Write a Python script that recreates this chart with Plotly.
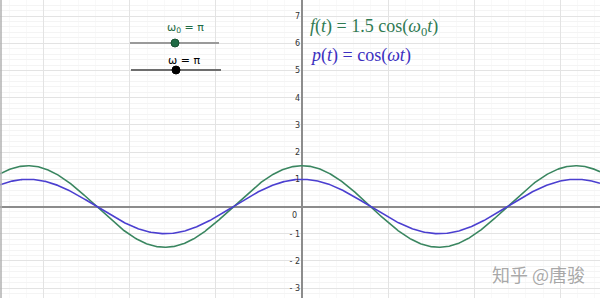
import numpy as np
import plotly.graph_objects as go

# ---- data ----
series_names = ["f(t) = 1.5 cos(ω0 t)", "p(t) = cos(ω t)"]
amplitudes = [1.5, 1.0]
omegas = [np.pi, np.pi]
series_colors = ["#3a8660", "#4b3fd0"]

x_range = [-2.2044, 2.1752]
y_range = [-3.364, 7.592]
y_tickvals = [-3, -2, -1, 1, 2, 3, 4, 5, 6, 7]
y_ticktext = ["- 3", "- 2", "- 1", "1", "2", "3", "4", "5", "6", "7"]

W, H = 600, 298
def px(x):
    return x / W
def py(y):
    return 1 - y / H

t = np.linspace(x_range[0], x_range[1], 800)

fig = go.Figure()
for name, a, w, c in zip(series_names, amplitudes, omegas, series_colors):
    fig.add_trace(go.Scatter(x=t, y=a * np.cos(w * t), mode="lines", name=name,
                             line=dict(color=c, width=1.6), hoverinfo="skip"))

fig.update_layout(
    width=W, height=H, margin=dict(l=0, r=0, t=0, b=0),
    paper_bgcolor="white", plot_bgcolor="white", showlegend=False,
    xaxis=dict(range=x_range, showticklabels=False, ticks="",
               dtick=np.pi / 5, tick0=0, gridcolor="#e3e3e3", gridwidth=1,
               minor=dict(dtick=np.pi / 25, tick0=0, showgrid=True, gridcolor="#f9f9f9", gridwidth=1),
               zeroline=True, zerolinecolor="#8c8c8c", zerolinewidth=1.5,
               showline=False, fixedrange=True),
    yaxis=dict(range=y_range, anchor="free", position=302 / W, side="left",
               tickmode="array", tickvals=y_tickvals, ticktext=y_ticktext,
               tickfont=dict(family="DejaVu Sans", size=8, color="#333333"),
               ticks="", ticklabelstandoff=2,
               showgrid=False,
               zeroline=True, zerolinecolor="#8c8c8c", zerolinewidth=1.5,
               showline=False, fixedrange=True),
)

# horizontal grid drawn through a second overlaying axis so labels stay at x=0
fig.update_layout(
    yaxis2=dict(range=y_range, overlaying="y", showticklabels=False, ticks="",
                dtick=1, tick0=0, gridcolor="#e3e3e3", gridwidth=1,
                minor=dict(dtick=0.2, tick0=0, showgrid=True, gridcolor="#f4f4f4", gridwidth=1),
                zeroline=False, showline=False, fixedrange=True, layer="below traces"),
)
fig.add_trace(go.Scatter(x=[x_range[0]], y=[0], yaxis="y2", mode="markers",
                         marker=dict(size=1, color="rgba(0,0,0,0)"), hoverinfo="skip"))

# "0" label below the axis
fig.add_annotation(x=0, y=0, text="0", showarrow=False, xanchor="right", yanchor="top",
                   xshift=-3, yshift=-2, font=dict(family="DejaVu Sans", size=8, color="#333333"))

# formula texts
fig.add_annotation(x=px(308), y=py(27), xref="paper", yref="paper", xanchor="left", yanchor="middle",
                   showarrow=False,
                   text="<i>f</i>(<i>t</i>) = 1.5 cos(<i>ω</i><sub>0</sub><i>t</i>)",
                   font=dict(family="Liberation Serif", size=18, color="#2f7a52"))
fig.add_annotation(x=px(308), y=py(55), xref="paper", yref="paper", xanchor="left", yanchor="middle",
                   showarrow=False,
                   text="<i>p</i>(<i>t</i>) = cos(<i>ωt</i>)",
                   font=dict(family="Liberation Serif", size=18, color="#3b2fc0"))

# sliders
fig.add_shape(type="line", xref="paper", yref="paper", x0=px(130), x1=px(219), y0=py(43), y1=py(43),
              line=dict(color="#9a9a9a", width=2))
fig.add_shape(type="circle", xref="paper", yref="paper", x0=px(171), x1=px(179), y0=py(39), y1=py(47),
              fillcolor="#1f6b45", line=dict(color="#15502f", width=1))
fig.add_annotation(x=px(185), y=py(28), xref="paper", yref="paper", showarrow=False,
                   xanchor="center", yanchor="middle",
                   text="ω<sub>0</sub> = π", font=dict(family="DejaVu Sans", size=11, color="#1f6b45"))

fig.add_shape(type="line", xref="paper", yref="paper", x0=px(131), x1=px(221), y0=py(70), y1=py(70),
              line=dict(color="#6e6e6e", width=2))
fig.add_shape(type="circle", xref="paper", yref="paper", x0=px(172), x1=px(180), y0=py(66), y1=py(74),
              fillcolor="#000000", line=dict(color="#000000", width=1))
fig.add_annotation(x=px(184), y=py(61), xref="paper", yref="paper", showarrow=False,
                   xanchor="center", yanchor="middle",
                   text="ω = π", font=dict(family="DejaVu Sans", size=11, color="#000000"))

# left border
fig.add_shape(type="line", xref="paper", yref="paper", x0=px(1), x1=px(1), y0=0, y1=1,
              line=dict(color="#b0b0b0", width=1.5))

# watermark
fig.add_annotation(x=px(538), y=py(274), xref="paper", yref="paper", showarrow=False,
                   xanchor="center", yanchor="middle",
                   text="知乎 @唐骏", font=dict(family="Noto Sans CJK SC", size=18, color="rgba(140,140,140,0.75)"))

fig.write_html("out.html")
